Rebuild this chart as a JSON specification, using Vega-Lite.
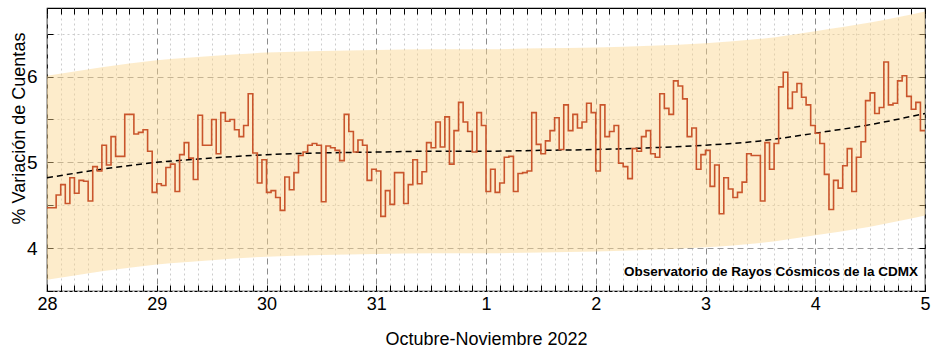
{
  "$schema": "https://vega.github.io/schema/vega-lite/v6.json",
  "width": 878,
  "height": 283,
  "autosize": {"type": "none"},
  "padding": {"left": 47, "top": 8, "right": 9, "bottom": 61},
  "background": "white",
  "config": {
    "view": {"stroke": "black", "strokeWidth": 1.2},
    "axis": {"labelFont": "Liberation Sans", "titleFont": "Liberation Sans", "labelColor": "black", "titleColor": "black", "titleFontWeight": "normal", "tickColor": "black", "domainColor": "black"}
  },
  "datasets": {
    "ajuste": [
      {"t": "2022-10-28T00:00:00Z", "fit": 4.82, "lo": 3.63, "hi": 6.01},
      {"t": "2022-10-28T12:00:00Z", "fit": 4.92, "lo": 3.73, "hi": 6.11},
      {"t": "2022-10-29T00:00:00Z", "fit": 5.0, "lo": 3.81, "hi": 6.19},
      {"t": "2022-10-29T12:00:00Z", "fit": 5.05, "lo": 3.86, "hi": 6.24},
      {"t": "2022-10-30T00:00:00Z", "fit": 5.09, "lo": 3.9, "hi": 6.28},
      {"t": "2022-10-30T12:00:00Z", "fit": 5.11, "lo": 3.92, "hi": 6.3},
      {"t": "2022-10-31T00:00:00Z", "fit": 5.12, "lo": 3.93, "hi": 6.31},
      {"t": "2022-10-31T12:00:00Z", "fit": 5.13, "lo": 3.94, "hi": 6.32},
      {"t": "2022-11-01T00:00:00Z", "fit": 5.13, "lo": 3.94, "hi": 6.32},
      {"t": "2022-11-01T12:00:00Z", "fit": 5.14, "lo": 3.95, "hi": 6.33},
      {"t": "2022-11-02T00:00:00Z", "fit": 5.15, "lo": 3.96, "hi": 6.34},
      {"t": "2022-11-02T12:00:00Z", "fit": 5.17, "lo": 3.98, "hi": 6.36},
      {"t": "2022-11-03T00:00:00Z", "fit": 5.2, "lo": 4.01, "hi": 6.39},
      {"t": "2022-11-03T12:00:00Z", "fit": 5.25, "lo": 4.06, "hi": 6.44},
      {"t": "2022-11-04T00:00:00Z", "fit": 5.34, "lo": 4.15, "hi": 6.53},
      {"t": "2022-11-04T12:00:00Z", "fit": 5.44, "lo": 4.25, "hi": 6.63},
      {"t": "2022-11-05T00:00:00Z", "fit": 5.57, "lo": 4.38, "hi": 6.76}
    ],
    "cuentas": [
      {"t": "2022-10-28T00:00:00Z", "v": 4.47}, {"t": "2022-10-28T01:00:00Z", "v": 4.47}, {"t": "2022-10-28T02:00:00Z", "v": 4.62}, {"t": "2022-10-28T03:00:00Z", "v": 4.74},
      {"t": "2022-10-28T04:00:00Z", "v": 4.52}, {"t": "2022-10-28T05:00:00Z", "v": 4.82}, {"t": "2022-10-28T06:00:00Z", "v": 4.64}, {"t": "2022-10-28T07:00:00Z", "v": 4.79},
      {"t": "2022-10-28T08:00:00Z", "v": 4.78}, {"t": "2022-10-28T09:00:00Z", "v": 4.55}, {"t": "2022-10-28T10:00:00Z", "v": 4.95}, {"t": "2022-10-28T11:00:00Z", "v": 4.9},
      {"t": "2022-10-28T12:00:00Z", "v": 5.2}, {"t": "2022-10-28T13:00:00Z", "v": 4.97}, {"t": "2022-10-28T14:00:00Z", "v": 5.3}, {"t": "2022-10-28T15:00:00Z", "v": 5.07},
      {"t": "2022-10-28T16:00:00Z", "v": 5.07}, {"t": "2022-10-28T17:00:00Z", "v": 5.56}, {"t": "2022-10-28T18:00:00Z", "v": 5.56}, {"t": "2022-10-28T19:00:00Z", "v": 5.33},
      {"t": "2022-10-28T20:00:00Z", "v": 5.35}, {"t": "2022-10-28T21:00:00Z", "v": 5.38}, {"t": "2022-10-28T22:00:00Z", "v": 5.13}, {"t": "2022-10-28T23:00:00Z", "v": 4.65},
      {"t": "2022-10-29T00:00:00Z", "v": 4.75}, {"t": "2022-10-29T01:00:00Z", "v": 4.73}, {"t": "2022-10-29T02:00:00Z", "v": 4.94}, {"t": "2022-10-29T03:00:00Z", "v": 4.98},
      {"t": "2022-10-29T04:00:00Z", "v": 4.66}, {"t": "2022-10-29T05:00:00Z", "v": 5.09}, {"t": "2022-10-29T06:00:00Z", "v": 5.23}, {"t": "2022-10-29T07:00:00Z", "v": 5.05},
      {"t": "2022-10-29T08:00:00Z", "v": 4.8}, {"t": "2022-10-29T09:00:00Z", "v": 5.55}, {"t": "2022-10-29T10:00:00Z", "v": 5.2}, {"t": "2022-10-29T11:00:00Z", "v": 5.2},
      {"t": "2022-10-29T12:00:00Z", "v": 5.5}, {"t": "2022-10-29T13:00:00Z", "v": 5.1}, {"t": "2022-10-29T14:00:00Z", "v": 5.58}, {"t": "2022-10-29T15:00:00Z", "v": 5.48},
      {"t": "2022-10-29T16:00:00Z", "v": 5.5}, {"t": "2022-10-29T17:00:00Z", "v": 5.38}, {"t": "2022-10-29T18:00:00Z", "v": 5.3}, {"t": "2022-10-29T19:00:00Z", "v": 5.43},
      {"t": "2022-10-29T20:00:00Z", "v": 5.8}, {"t": "2022-10-29T21:00:00Z", "v": 5.11}, {"t": "2022-10-29T22:00:00Z", "v": 4.76}, {"t": "2022-10-29T23:00:00Z", "v": 5.03},
      {"t": "2022-10-30T00:00:00Z", "v": 4.65}, {"t": "2022-10-30T01:00:00Z", "v": 4.67}, {"t": "2022-10-30T02:00:00Z", "v": 4.59}, {"t": "2022-10-30T03:00:00Z", "v": 4.44},
      {"t": "2022-10-30T04:00:00Z", "v": 4.83}, {"t": "2022-10-30T05:00:00Z", "v": 4.68}, {"t": "2022-10-30T06:00:00Z", "v": 4.88}, {"t": "2022-10-30T07:00:00Z", "v": 5.08},
      {"t": "2022-10-30T08:00:00Z", "v": 5.12}, {"t": "2022-10-30T09:00:00Z", "v": 5.2}, {"t": "2022-10-30T10:00:00Z", "v": 5.22}, {"t": "2022-10-30T11:00:00Z", "v": 5.2},
      {"t": "2022-10-30T12:00:00Z", "v": 4.54}, {"t": "2022-10-30T13:00:00Z", "v": 5.19}, {"t": "2022-10-30T14:00:00Z", "v": 5.17}, {"t": "2022-10-30T15:00:00Z", "v": 5.14},
      {"t": "2022-10-30T16:00:00Z", "v": 5.02}, {"t": "2022-10-30T17:00:00Z", "v": 5.56}, {"t": "2022-10-30T18:00:00Z", "v": 5.36}, {"t": "2022-10-30T19:00:00Z", "v": 5.12},
      {"t": "2022-10-30T20:00:00Z", "v": 5.26}, {"t": "2022-10-30T21:00:00Z", "v": 5.2}, {"t": "2022-10-30T22:00:00Z", "v": 4.79}, {"t": "2022-10-30T23:00:00Z", "v": 4.92},
      {"t": "2022-10-31T00:00:00Z", "v": 4.9}, {"t": "2022-10-31T01:00:00Z", "v": 4.37}, {"t": "2022-10-31T02:00:00Z", "v": 4.67}, {"t": "2022-10-31T03:00:00Z", "v": 4.51},
      {"t": "2022-10-31T04:00:00Z", "v": 4.88}, {"t": "2022-10-31T05:00:00Z", "v": 4.88}, {"t": "2022-10-31T06:00:00Z", "v": 4.52}, {"t": "2022-10-31T07:00:00Z", "v": 4.74},
      {"t": "2022-10-31T08:00:00Z", "v": 5.03}, {"t": "2022-10-31T09:00:00Z", "v": 4.75}, {"t": "2022-10-31T10:00:00Z", "v": 4.89}, {"t": "2022-10-31T11:00:00Z", "v": 5.23},
      {"t": "2022-10-31T12:00:00Z", "v": 5.17}, {"t": "2022-10-31T13:00:00Z", "v": 5.47}, {"t": "2022-10-31T14:00:00Z", "v": 5.18}, {"t": "2022-10-31T15:00:00Z", "v": 5.53},
      {"t": "2022-10-31T16:00:00Z", "v": 4.98}, {"t": "2022-10-31T17:00:00Z", "v": 5.37}, {"t": "2022-10-31T18:00:00Z", "v": 5.7}, {"t": "2022-10-31T19:00:00Z", "v": 5.47},
      {"t": "2022-10-31T20:00:00Z", "v": 5.36}, {"t": "2022-10-31T21:00:00Z", "v": 5.12}, {"t": "2022-10-31T22:00:00Z", "v": 5.58}, {"t": "2022-10-31T23:00:00Z", "v": 5.43},
      {"t": "2022-11-01T00:00:00Z", "v": 4.66}, {"t": "2022-11-01T01:00:00Z", "v": 4.92}, {"t": "2022-11-01T02:00:00Z", "v": 4.65}, {"t": "2022-11-01T03:00:00Z", "v": 4.76},
      {"t": "2022-11-01T04:00:00Z", "v": 5.06}, {"t": "2022-11-01T05:00:00Z", "v": 5.07}, {"t": "2022-11-01T06:00:00Z", "v": 4.66}, {"t": "2022-11-01T07:00:00Z", "v": 4.87},
      {"t": "2022-11-01T08:00:00Z", "v": 4.88}, {"t": "2022-11-01T09:00:00Z", "v": 4.9}, {"t": "2022-11-01T10:00:00Z", "v": 5.58}, {"t": "2022-11-01T11:00:00Z", "v": 5.21},
      {"t": "2022-11-01T12:00:00Z", "v": 5.1}, {"t": "2022-11-01T13:00:00Z", "v": 5.25}, {"t": "2022-11-01T14:00:00Z", "v": 5.37}, {"t": "2022-11-01T15:00:00Z", "v": 5.52},
      {"t": "2022-11-01T16:00:00Z", "v": 5.15}, {"t": "2022-11-01T17:00:00Z", "v": 5.67}, {"t": "2022-11-01T18:00:00Z", "v": 5.37}, {"t": "2022-11-01T19:00:00Z", "v": 5.56},
      {"t": "2022-11-01T20:00:00Z", "v": 5.4}, {"t": "2022-11-01T21:00:00Z", "v": 5.47}, {"t": "2022-11-01T22:00:00Z", "v": 5.69}, {"t": "2022-11-01T23:00:00Z", "v": 5.58},
      {"t": "2022-11-02T00:00:00Z", "v": 4.9}, {"t": "2022-11-02T01:00:00Z", "v": 5.67}, {"t": "2022-11-02T02:00:00Z", "v": 5.3}, {"t": "2022-11-02T03:00:00Z", "v": 5.36},
      {"t": "2022-11-02T04:00:00Z", "v": 5.43}, {"t": "2022-11-02T05:00:00Z", "v": 4.99}, {"t": "2022-11-02T06:00:00Z", "v": 4.95}, {"t": "2022-11-02T07:00:00Z", "v": 4.81},
      {"t": "2022-11-02T08:00:00Z", "v": 5.16}, {"t": "2022-11-02T09:00:00Z", "v": 5.13}, {"t": "2022-11-02T10:00:00Z", "v": 5.3}, {"t": "2022-11-02T11:00:00Z", "v": 5.37},
      {"t": "2022-11-02T12:00:00Z", "v": 5.1}, {"t": "2022-11-02T13:00:00Z", "v": 5.06}, {"t": "2022-11-02T14:00:00Z", "v": 5.8}, {"t": "2022-11-02T15:00:00Z", "v": 5.63},
      {"t": "2022-11-02T16:00:00Z", "v": 5.56}, {"t": "2022-11-02T17:00:00Z", "v": 5.95}, {"t": "2022-11-02T18:00:00Z", "v": 5.89}, {"t": "2022-11-02T19:00:00Z", "v": 5.74},
      {"t": "2022-11-02T20:00:00Z", "v": 5.3}, {"t": "2022-11-02T21:00:00Z", "v": 5.4}, {"t": "2022-11-02T22:00:00Z", "v": 4.92}, {"t": "2022-11-02T23:00:00Z", "v": 5.09},
      {"t": "2022-11-03T00:00:00Z", "v": 5.14}, {"t": "2022-11-03T01:00:00Z", "v": 4.72}, {"t": "2022-11-03T02:00:00Z", "v": 4.97}, {"t": "2022-11-03T03:00:00Z", "v": 4.4},
      {"t": "2022-11-03T04:00:00Z", "v": 4.82}, {"t": "2022-11-03T05:00:00Z", "v": 4.69}, {"t": "2022-11-03T06:00:00Z", "v": 4.59}, {"t": "2022-11-03T07:00:00Z", "v": 4.65},
      {"t": "2022-11-03T08:00:00Z", "v": 4.77}, {"t": "2022-11-03T09:00:00Z", "v": 5.1}, {"t": "2022-11-03T10:00:00Z", "v": 5.08}, {"t": "2022-11-03T11:00:00Z", "v": 5.08},
      {"t": "2022-11-03T12:00:00Z", "v": 4.55}, {"t": "2022-11-03T13:00:00Z", "v": 5.23}, {"t": "2022-11-03T14:00:00Z", "v": 4.92}, {"t": "2022-11-03T15:00:00Z", "v": 5.22},
      {"t": "2022-11-03T16:00:00Z", "v": 5.88}, {"t": "2022-11-03T17:00:00Z", "v": 6.05}, {"t": "2022-11-03T18:00:00Z", "v": 5.63}, {"t": "2022-11-03T19:00:00Z", "v": 5.82},
      {"t": "2022-11-03T20:00:00Z", "v": 5.92}, {"t": "2022-11-03T21:00:00Z", "v": 5.76}, {"t": "2022-11-03T22:00:00Z", "v": 5.67}, {"t": "2022-11-03T23:00:00Z", "v": 5.43},
      {"t": "2022-11-04T00:00:00Z", "v": 5.34}, {"t": "2022-11-04T01:00:00Z", "v": 5.22}, {"t": "2022-11-04T02:00:00Z", "v": 4.86}, {"t": "2022-11-04T03:00:00Z", "v": 4.45},
      {"t": "2022-11-04T04:00:00Z", "v": 4.79}, {"t": "2022-11-04T05:00:00Z", "v": 4.7}, {"t": "2022-11-04T06:00:00Z", "v": 4.96}, {"t": "2022-11-04T07:00:00Z", "v": 5.16},
      {"t": "2022-11-04T08:00:00Z", "v": 4.66}, {"t": "2022-11-04T09:00:00Z", "v": 5.06}, {"t": "2022-11-04T10:00:00Z", "v": 5.24}, {"t": "2022-11-04T11:00:00Z", "v": 5.72},
      {"t": "2022-11-04T12:00:00Z", "v": 5.81}, {"t": "2022-11-04T13:00:00Z", "v": 5.57}, {"t": "2022-11-04T14:00:00Z", "v": 5.64}, {"t": "2022-11-04T15:00:00Z", "v": 6.17},
      {"t": "2022-11-04T16:00:00Z", "v": 5.67}, {"t": "2022-11-04T17:00:00Z", "v": 5.69}, {"t": "2022-11-04T18:00:00Z", "v": 5.95}, {"t": "2022-11-04T19:00:00Z", "v": 6.01},
      {"t": "2022-11-04T20:00:00Z", "v": 5.77}, {"t": "2022-11-04T21:00:00Z", "v": 5.62}, {"t": "2022-11-04T22:00:00Z", "v": 5.7}, {"t": "2022-11-04T23:00:00Z", "v": 5.37},
      {"t": "2022-11-05T00:00:00Z", "v": 5.37}
    ],
    "nota": [
      {"t": "2022-11-04T22:28:00Z", "v": 3.72, "texto": "Observatorio de Rayos Cósmicos de la CDMX"}
    ]
  },
  "layer": [
    {
      "data": {"name": "ajuste"},
      "mark": {"type": "area", "interpolate": "monotone", "color": "#fad48c", "opacity": 0.45},
      "encoding": {
        "x": {
          "field": "t", "type": "temporal",
          "scale": {"type": "utc", "domain": [1666915200000, 1667606400000]},
          "axis": {
            "orient": "bottom",
            "values": [1666915200000, 1666926000000, 1666936800000, 1666947600000, 1666958400000, 1666969200000, 1666980000000, 1666990800000,
                       1667001600000, 1667012400000, 1667023200000, 1667034000000, 1667044800000, 1667055600000, 1667066400000, 1667077200000,
                       1667088000000, 1667098800000, 1667109600000, 1667120400000, 1667131200000, 1667142000000, 1667152800000, 1667163600000,
                       1667174400000, 1667185200000, 1667196000000, 1667206800000, 1667217600000, 1667228400000, 1667239200000, 1667250000000,
                       1667260800000, 1667271600000, 1667282400000, 1667293200000, 1667304000000, 1667314800000, 1667325600000, 1667336400000,
                       1667347200000, 1667358000000, 1667368800000, 1667379600000, 1667390400000, 1667401200000, 1667412000000, 1667422800000,
                       1667433600000, 1667444400000, 1667455200000, 1667466000000, 1667476800000, 1667487600000, 1667498400000, 1667509200000,
                       1667520000000, 1667530800000, 1667541600000, 1667552400000, 1667563200000, 1667574000000, 1667584800000, 1667595600000,
                       1667606400000],
            "labelExpr": "utchours(datum.value) == 0 ? utcFormat(datum.value, '%-d') : ''",
            "labelOverlap": false,
            "title": "Octubre-Noviembre 2022",
            "titleFontSize": 18, "titlePadding": 17,
            "labelFontSize": 18, "labelPadding": 10, "labelFlush": false,
            "grid": true,
            "gridDash": {"condition": {"test": "utchours(datum.value) == 0", "value": [6, 4]}, "value": [2, 3]},
            "gridColor": {"condition": {"test": "utchours(datum.value) == 0", "value": "#8c8c8c"}, "value": "#cccccc"},
            "ticks": true, "tickSize": -6, "domain": false
          }
        },
        "y": {
          "field": "lo", "type": "quantitative",
          "scale": {"domain": [3.5, 6.8], "nice": false, "zero": false},
          "axis": {
            "orient": "left",
            "values": [3.5, 4, 4.5, 5, 5.5, 6, 6.5],
            "labelExpr": "datum.value % 1 == 0 ? format(datum.value, 'd') : ''",
            "title": "% Variación de Cuentas", "titleFontSize": 18,
            "titleX": -23, "titleY": 120, "titleBaseline": "alphabetic", "titleAngle": 270, "titleAlign": "center",
            "labelFontSize": 19, "labelPadding": 16,
            "grid": true,
            "gridDash": {"condition": {"test": "datum.value % 1 == 0", "value": [6, 4]}, "value": [2, 3]},
            "gridColor": {"condition": {"test": "datum.value % 1 == 0", "value": "#9a9a9a"}, "value": "#cccccc"},
            "ticks": true, "tickSize": -6, "domain": false
          }
        },
        "y2": {"field": "hi"}
      }
    },
    {
      "data": {"name": "ajuste"},
      "mark": {"type": "line", "interpolate": "monotone", "color": "black", "strokeWidth": 1.5, "strokeDash": [6, 4]},
      "encoding": {
        "x": {"field": "t", "type": "temporal", "axis": null},
        "y": {"field": "fit", "type": "quantitative", "axis": null}
      }
    },
    {
      "data": {"name": "cuentas"},
      "mark": {"type": "line", "interpolate": "step-after", "color": "#c9552c", "strokeWidth": 1.6},
      "encoding": {
        "x": {
          "field": "t", "type": "temporal",
          "axis": {
            "orient": "top", "title": null, "labels": false, "domain": false, "grid": false,
            "values": [1666915200000, 1666926000000, 1666936800000, 1666947600000, 1666958400000, 1666969200000, 1666980000000, 1666990800000,
                       1667001600000, 1667012400000, 1667023200000, 1667034000000, 1667044800000, 1667055600000, 1667066400000, 1667077200000,
                       1667088000000, 1667098800000, 1667109600000, 1667120400000, 1667131200000, 1667142000000, 1667152800000, 1667163600000,
                       1667174400000, 1667185200000, 1667196000000, 1667206800000, 1667217600000, 1667228400000, 1667239200000, 1667250000000,
                       1667260800000, 1667271600000, 1667282400000, 1667293200000, 1667304000000, 1667314800000, 1667325600000, 1667336400000,
                       1667347200000, 1667358000000, 1667368800000, 1667379600000, 1667390400000, 1667401200000, 1667412000000, 1667422800000,
                       1667433600000, 1667444400000, 1667455200000, 1667466000000, 1667476800000, 1667487600000, 1667498400000, 1667509200000,
                       1667520000000, 1667530800000, 1667541600000, 1667552400000, 1667563200000, 1667574000000, 1667584800000, 1667595600000,
                       1667606400000],
            "ticks": true, "tickSize": -6
          }
        },
        "y": {
          "field": "v", "type": "quantitative",
          "axis": {
            "orient": "right", "title": null, "labels": false, "domain": false, "grid": false,
            "values": [3.5, 4, 4.5, 5, 5.5, 6, 6.5],
            "ticks": true, "tickSize": -6
          }
        }
      }
    },
    {
      "data": {"name": "nota"},
      "mark": {"type": "text", "align": "right", "baseline": "middle", "fontWeight": "bold", "fontSize": 13.5, "font": "Liberation Sans", "color": "black"},
      "encoding": {
        "x": {"field": "t", "type": "temporal", "axis": null},
        "y": {"field": "v", "type": "quantitative", "axis": null},
        "text": {"field": "texto"}
      }
    }
  ],
  "resolve": {"axis": {"x": "independent", "y": "independent"}}
}
